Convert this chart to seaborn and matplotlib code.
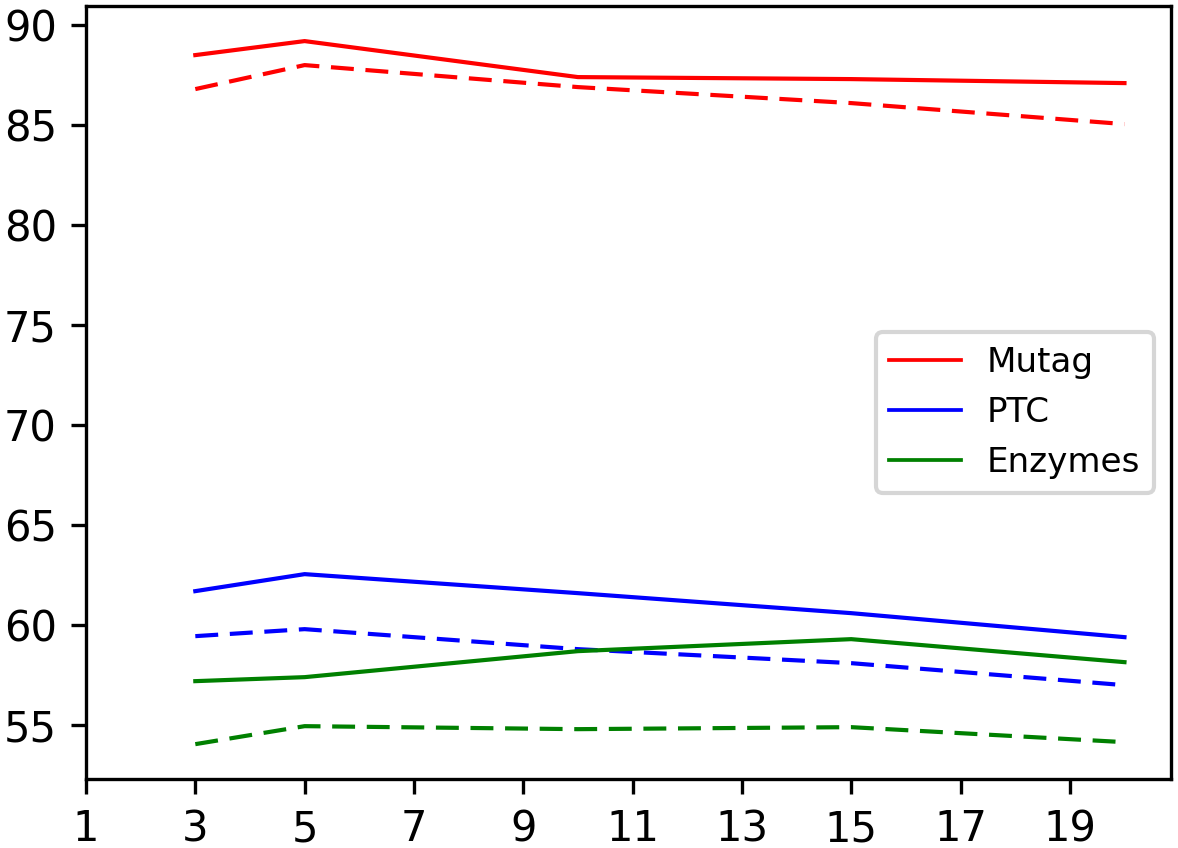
"""Accuracy vs. x for three datasets, solid and dashed variants."""

import seaborn as sns
import matplotlib.pyplot as plt
import pandas as pd
from matplotlib.lines import Line2D

x_vals = [3, 5, 10, 15, 20]

mutag_solid = [88.5, 89.2, 87.4, 87.3, 87.1]
mutag_dash = [86.8, 88.0, 86.9, 86.1, 85.05]
ptc_solid = [61.7, 62.55, 61.6, 60.6, 59.4]
ptc_dash = [59.45, 59.8, 58.8, 58.1, 57.0]
enz_solid = [57.2, 57.4, 58.7, 59.3, 58.15]
enz_dash = [54.05, 54.95, 54.8, 54.9, 54.15]

datasets = ['Mutag', 'PTC', 'Enzymes']
colors = ['red', 'blue', 'green']

rows = []
for name, solid, dash in [('Mutag', mutag_solid, mutag_dash),
                          ('PTC', ptc_solid, ptc_dash),
                          ('Enzymes', enz_solid, enz_dash)]:
    for xv, s, d in zip(x_vals, solid, dash):
        rows.append({'x': xv, 'acc': s, 'dataset': name, 'kind': 'solid'})
        rows.append({'x': xv, 'acc': d, 'dataset': name, 'kind': 'dash'})
df = pd.DataFrame(rows)

plt.rcParams['font.family'] = ['DejaVu Sans']

fig = plt.figure(figsize=(1178 / 300, 848 / 300), dpi=300)
ax = fig.add_axes([0.073, 0.081, 0.921, 0.912])

for name, color in zip(datasets, colors):
    sub = df[df['dataset'] == name]
    sns.lineplot(data=sub[sub['kind'] == 'solid'], x='x', y='acc',
                 color=color, lw=1.0, ax=ax, legend=False)
    sns.lineplot(data=sub[sub['kind'] == 'dash'], x='x', y='acc',
                 color=color, lw=1.0, ax=ax, legend=False,
                 dashes=False, linestyle=(0, (5.5, 2.8)))

ax.set_xticks(range(1, 21, 2))
ax.set_xlabel('')
ax.set_ylabel('')
ax.tick_params(labelsize=10, width=0.8, length=3.5)
for sp in ax.spines.values():
    sp.set_linewidth(0.8)

handles = [Line2D([], [], color=c, lw=0.9) for c in colors]
ax.legend(handles, datasets, loc='center right', fontsize=8.2,
          handlelength=2.1, handletextpad=0.75,
          bbox_to_anchor=(1.0, 0.474))

plt.savefig('out.png', dpi=300)
